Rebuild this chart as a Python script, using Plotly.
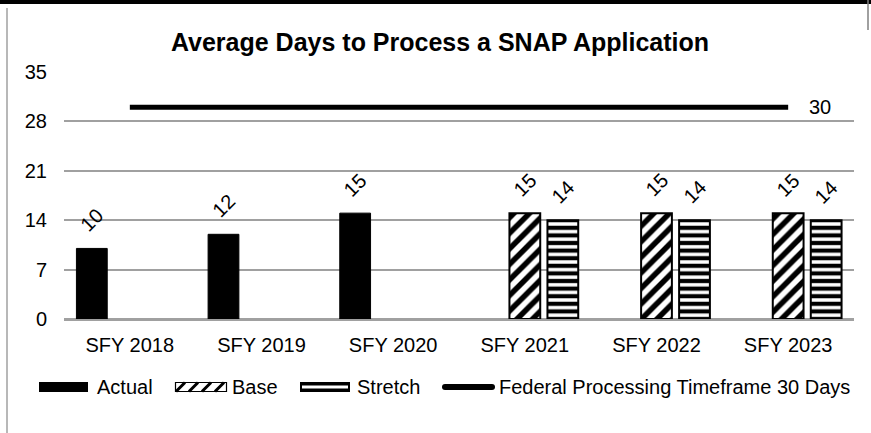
import plotly.graph_objects as go

categories = ["SFY 2018", "SFY 2019", "SFY 2020", "SFY 2021", "SFY 2022", "SFY 2023"]
actual = [10, 12, 15, None, None, None]
base = [None, None, None, 15, 15, 15]
stretch = [None, None, None, 14, 14, 14]
federal = [30, 30, 30, 30, 30, 30]
y_ticks = [0, 7, 14, 21, 28, 35]
legend_names = ["Actual", "Base", "Stretch", "Federal Processing Timeframe 30 Days"]

W, H = 871, 433
L, R, T, B = 64, 17, 72, 114
plot_w = W - L - R
plot_h = H - T - B
slot_px = 38

FONT = "Liberation Sans, Arial, sans-serif"

fig = go.Figure()
fig.add_trace(go.Bar(name=legend_names[0], x=categories, y=actual,
                     marker=dict(color="black", line=dict(color="black", width=1))))
fig.add_trace(go.Bar(name=legend_names[1], x=categories, y=base,
                     marker=dict(color="white", line=dict(color="black", width=2),
                                 pattern=dict(shape="/", fgcolor="black", bgcolor="white",
                                              fgopacity=1, size=11, solidity=0.5))))
fig.add_trace(go.Bar(name=legend_names[2], x=categories, y=stretch,
                     marker=dict(color="white", line=dict(color="black", width=2),
                                 pattern=dict(shape="-", fgcolor="black", bgcolor="white",
                                              fgopacity=1, size=7.6, solidity=0.55))))
fig.add_trace(go.Scatter(name=legend_names[3], x=categories, y=federal,
                         mode="lines", line=dict(color="black", width=5)))

annotations = []
for idx, series in enumerate([actual, base, stretch]):
    for c, v in zip(categories, series):
        if v is None:
            continue
        annotations.append(dict(x=c, y=v, xref="x", yref="y", text=str(v), showarrow=False,
                                textangle=-45, xshift=(idx - 1) * slot_px, yshift=28,
                                xanchor="center", yanchor="middle",
                                font=dict(family=FONT, size=20, color="black")))
annotations.append(dict(x=categories[-1], y=federal[-1], xref="x", yref="y", text=str(federal[-1]),
                        showarrow=False, xshift=32, xanchor="center", yanchor="middle",
                        font=dict(family=FONT, size=20, color="black")))


def px_x(p):
    return (p - L) / plot_w


def px_y(p):
    return (H - B - p) / plot_h


def rect(x0, x1, y0, y1, fill, lw=0, lc="black"):
    return dict(type="rect", xref="paper", yref="paper", x0=px_x(x0), x1=px_x(x1),
                y0=px_y(y1), y1=px_y(y0), fillcolor=fill,
                line=dict(width=lw, color=lc), layer="above")


def seg(x0, y0, x1, y1, color="black", width=1.5):
    return dict(type="line", xref="paper", yref="paper", x0=px_x(x0), x1=px_x(x1),
                y0=px_y(y0), y1=px_y(y1), line=dict(color=color, width=width), layer="above")


shapes = [
    rect(0, W, 0, 4, "black"),
    seg(7, 8, 7, 433, "#a0a0a0", 1.5),
    seg(868, 0, 868, 30, "#808080", 1.5),
]

# custom legend (wide swatches as in the reference)
ly = 387
shapes.append(rect(39, 88, 382, 392, "black"))
shapes.append(rect(175.5, 226.5, 382.5, 391.5, "white", 1.2))
for sx in [176, 189, 202, 215]:
    shapes.append(seg(sx, 391.5, sx + 9, 382.5, "black", 3))
shapes.append(rect(300, 350, 382, 392, "black"))
shapes.append(rect(302, 348, 385.5, 388.5, "white"))
shapes.append(seg(445, ly, 492, ly, "black", 6))
shapes.append(dict(type="circle", xref="paper", yref="paper", x0=px_x(442), x1=px_x(448),
                   y0=px_y(390), y1=px_y(384), fillcolor="black", line=dict(width=0), layer="above"))
shapes.append(dict(type="circle", xref="paper", yref="paper", x0=px_x(489), x1=px_x(495),
                   y0=px_y(390), y1=px_y(384), fillcolor="black", line=dict(width=0), layer="above"))
for name, tx in zip(legend_names, [95, 230, 355, 497]):
    annotations.append(dict(x=px_x(tx), y=px_y(ly), xref="paper", yref="paper", text=name,
                            showarrow=False, xanchor="left", yanchor="middle",
                            font=dict(family=FONT, size=20, color="black")))

fig.update_layout(
    width=W, height=H,
    margin=dict(l=L, r=R, t=T, b=B),
    paper_bgcolor="white", plot_bgcolor="white",
    font=dict(family=FONT, size=20, color="black"),
    title=dict(text="<b>Average Days to Process a SNAP Application</b>", x=440 / W, xanchor="center",
               y=1 - 42 / H, yanchor="middle", font=dict(family=FONT, size=25, color="black")),
    barmode="group", bargap=0.134, bargroupgap=0.19,
    showlegend=False,
    annotations=annotations,
    shapes=shapes,
)
fig.update_xaxes(showgrid=False, showline=True, linecolor="#a0a0a0", linewidth=1.5,
                 ticks="", ticklabelstandoff=7, tickfont=dict(family=FONT, size=20))
fig.update_yaxes(range=[0, 35], tickvals=y_ticks, showgrid=True, gridcolor="#a0a0a0", gridwidth=1.5,
                 zeroline=True, zerolinecolor="#a0a0a0", zerolinewidth=1.5, showline=False,
                 ticks="", ticklabelstandoff=16, tickfont=dict(family=FONT, size=20))

fig.write_html("out.html", config={"displayModeBar": False},
               post_script="document.body.style.margin='0';document.body.style.overflow='hidden';")
